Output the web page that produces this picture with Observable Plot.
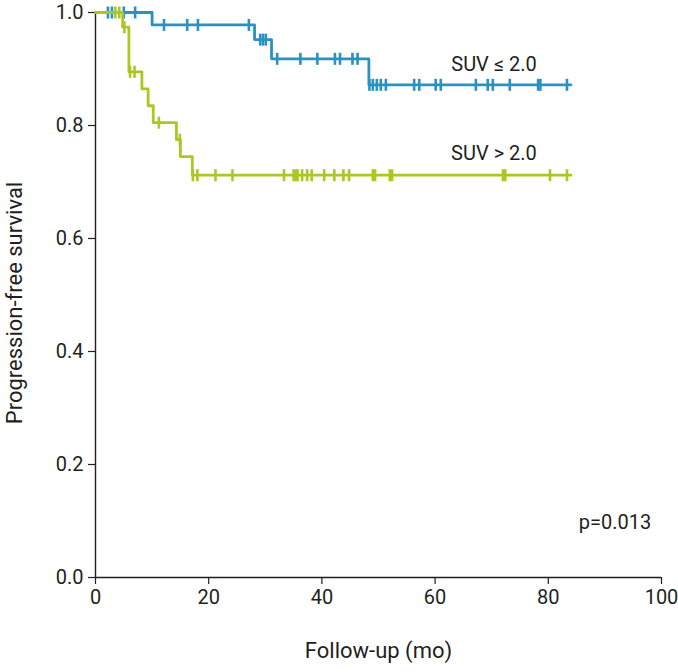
<!DOCTYPE html>
<html><head><meta charset="utf-8">
<script src="https://cdn.jsdelivr.net/npm/d3@7"></script>
<script src="https://cdn.jsdelivr.net/npm/@observablehq/plot@0.6"></script>
<style>
body{margin:0;background:#fff}
#chart{width:678px;height:672px}
</style>
</head><body><div id="chart"></div>
<script>
// Tick values
const xTicks = [0, 20, 40, 60, 80, 100];
const yTicks = [0, 0.2, 0.4, 0.6, 0.8, 1.0];

// Group labels
const groupNames = ["SUV ≤ 2.0", "SUV > 2.0"];
const groupColors = ["#2b91c1", "#a9c824"];

// SUV ≤ 2.0: step times and survival after each step
const lowTimes = [0, 10.0, 28.1, 31.1, 48.3, 84];
const lowSurv  = [1, 0.978, 0.952, 0.918, 0.872, 0.872];
const lowCensor = [2.2, 2.9, 5.0, 7.0, 12.1, 16.2, 18.1, 27.1, 29.1, 29.6, 30.1,
  32.1, 36.2, 39.2, 42.3, 43.2, 45.4, 46.3, 48.4, 49.0, 49.7, 50.4, 51.3,
  56.3, 57.2, 60.1, 61.0, 67.2, 69.3, 70.2, 73.2, 78.2, 78.6, 83.3];

// SUV > 2.0
const highTimes = [0, 4.8, 5.9, 8.2, 9.3, 10.2, 14.3, 15.0, 17.1, 84];
const highSurv  = [1, 0.974, 0.895, 0.865, 0.835, 0.805, 0.775, 0.745, 0.712, 0.712];
const highCensor = [3.5, 4.2, 5.1, 6.1, 6.9, 11.2, 14.9, 17.2, 18.0, 21.2, 24.2,
  33.3, 35.0, 35.4, 35.7, 36.5, 37.4, 38.2, 40.4, 42.2, 43.8, 44.8,
  49.0, 49.4, 52.0, 52.4, 72.0, 72.4, 80.3, 83.3];

const pLabel = "p=0.013";

function steps(times, surv) {
  return times.map((t, i) => ({t, s: surv[i]}));
}
function censors(times, surv, cs) {
  return cs.map(c => {
    let s = surv[0];
    for (let i = 0; i < times.length; i++) if (times[i] <= c) s = surv[i];
    return {t: c, s};
  });
}

const vtick = {
  draw(context, size) {
    const h = Math.sqrt(size / Math.PI);
    context.moveTo(0, -h);
    context.lineTo(0, h);
  }
};

const font = "Roboto, sans-serif";
const tickFs = 20;
const titleFs = 22;
const labelFs = 20;

const lowLine = steps(lowTimes, lowSurv);
const highLine = steps(highTimes, highSurv);
const lowC = censors(lowTimes, lowSurv, lowCensor);
const highC = censors(highTimes, highSurv, highCensor);

const chart = Plot.plot({
  width: 678,
  height: 672,
  marginLeft: 95,
  marginRight: 17,
  marginTop: 12,
  marginBottom: 95,
  style: {fontFamily: font, fontSize: tickFs + "px", color: "#231f20", background: "#fff"},
  x: {domain: [0, 100]},
  y: {domain: [0, 1]},
  marks: [
    Plot.axisX({ticks: xTicks, tickSize: 7, tickPadding: 5, fontSize: tickFs, label: null, stroke: "#231f20", strokeWidth: 1.2}),
    Plot.axisY({ticks: yTicks, tickSize: 7, tickPadding: 5, fontSize: tickFs, label: null, tickFormat: d3.format(".1f"), stroke: "#231f20", strokeWidth: 1.2}),
    Plot.ruleX([0], {stroke: "#231f20", strokeWidth: 1.4}),
    Plot.ruleY([0], {stroke: "#231f20", strokeWidth: 1.4}),
    Plot.line(lowLine, {x: "t", y: "s", curve: "step-after", stroke: groupColors[0], strokeWidth: 2.8}),
    Plot.dot(lowC, {x: "t", y: "s", r: 6, symbol: vtick, stroke: groupColors[0], strokeWidth: 2.6, fill: "none"}),
    Plot.line(highLine, {x: "t", y: "s", curve: "step-after", stroke: groupColors[1], strokeWidth: 2.8}),
    Plot.dot(highC, {x: "t", y: "s", r: 6, symbol: vtick, stroke: groupColors[1], strokeWidth: 2.6, fill: "none"}),
    Plot.text([groupNames[0]], {x: 70.4, y: 0.908, fontSize: labelFs, fill: "#231f20", text: d => d}),
    Plot.text([groupNames[1]], {x: 70.4, y: 0.75, fontSize: labelFs, fill: "#231f20", text: d => d}),
    Plot.text([pLabel], {x: 91.8, y: 0.097, fontSize: labelFs, fill: "#231f20", text: d => d}),
    Plot.text(["Progression-free survival"], {frameAnchor: "left", textAnchor: "middle", dx: -81, dy: 8, rotate: -90, fontSize: titleFs, fill: "#231f20", text: d => d}),
    Plot.text(["Follow-up (mo)"], {frameAnchor: "bottom", dy: 80, fontSize: titleFs, fill: "#231f20", text: d => d})
  ]
});
document.getElementById("chart").appendChild(chart);
</script>
</body></html>
